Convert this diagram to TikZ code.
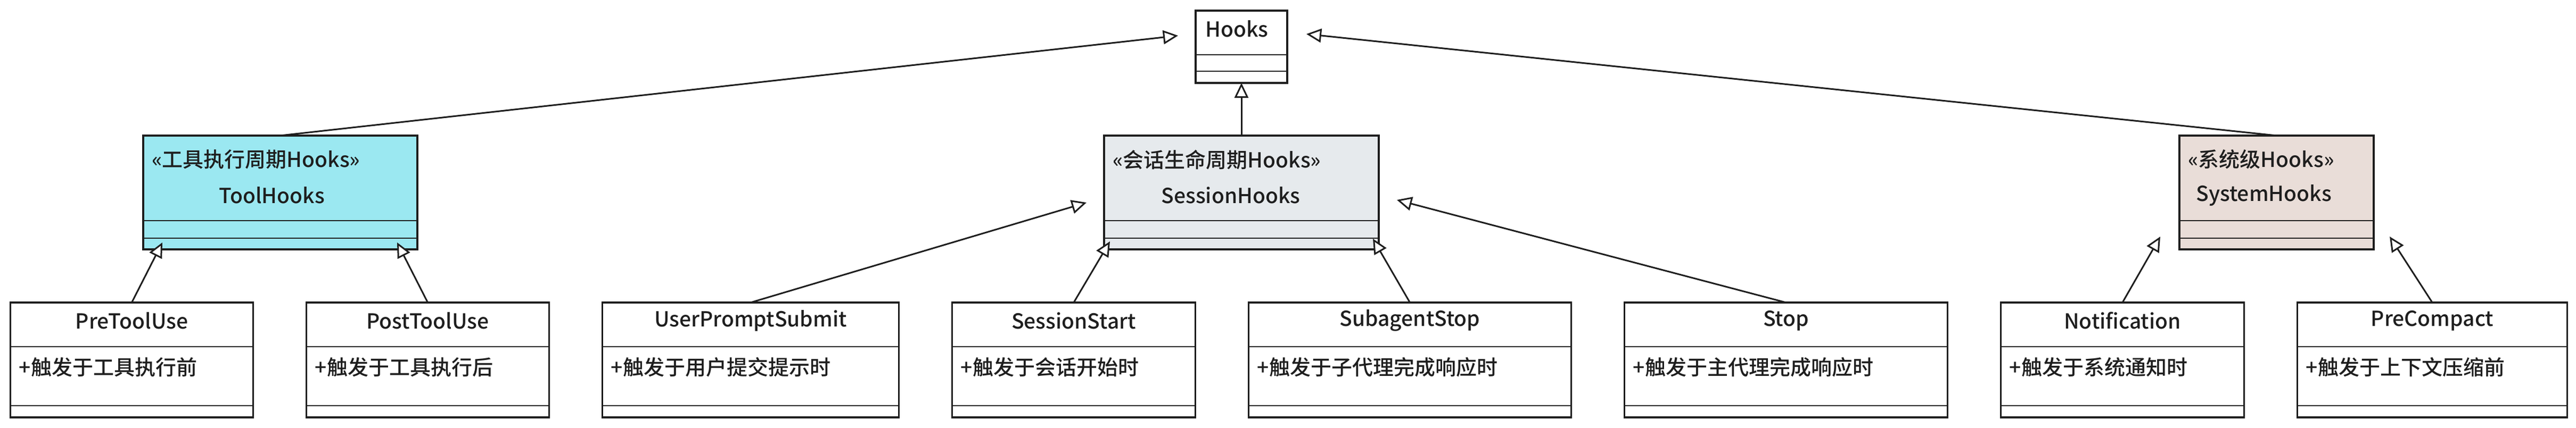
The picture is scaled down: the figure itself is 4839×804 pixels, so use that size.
\documentclass[tikz,border=0pt]{standalone}
\usepackage{fontspec}
\setmainfont{Noto Sans CJK SC}[UprightFont={* Medium}]
\usepackage{xcolor}
\usetikzlibrary{positioning,arrows.meta}

\definecolor{ink}{HTML}{1E1E1E}
\definecolor{toolfill}{HTML}{9BE8F1}
\definecolor{sessionfill}{HTML}{E6EAED}
\definecolor{systemfill}{HTML}{E9DDD8}

\tikzset{
  classbox/.style={draw=ink, line width=1.8pt, anchor=north west, inner sep=0pt, outer sep=0pt},
  eventbox/.style={classbox, fill=white, minimum height=108pt},
  groupbox/.style={classbox, minimum height=107pt},
  txt/.style={text=ink, font=\fontsize{19.5pt}{23pt}\selectfont, inner sep=0pt},
  divider/.style={draw=ink, line width=1.1pt},
  generalize/.style={draw=ink, line width=1.5pt, -{Triangle[length=14pt, width=13pt, fill=white]}},
}

\begin{document}
\begin{tikzpicture}[x=0.5pt, y=-0.5pt]
          \useasboundingbox (0,0) rectangle (4839,804);
          \fill[white] (0,0) rectangle (4839,804);

          % Define the base class and the three groups
          \node[classbox, fill=white, minimum width=86pt, minimum height=68pt] (hooks) at (2246,20) {};
          \node[groupbox, fill=toolfill, minimum width=257.5pt] (tool) at (269,255) {};
          \node[groupbox, fill=sessionfill, minimum width=258pt] (session) at (2074,255) {};
          \node[groupbox, fill=systemfill, minimum width=182.5pt] (system) at (4094,255) {};

          \node[txt, anchor=west] (hookslabel) at ([xshift=9pt,yshift=-17pt]hooks.north west) {Hooks};
          \node[txt, anchor=west] (toolst) at ([xshift=8pt,yshift=-22.5pt]tool.north west) {«工具执行周期Hooks»};
          \node[txt] (toolname) at ([xshift=-8pt,yshift=-56pt]tool.north) {ToolHooks};
          \node[txt, anchor=west] (sessionst) at ([xshift=8pt,yshift=-22.5pt]session.north west) {«会话生命周期Hooks»};
          \node[txt] (sessionname) at ([xshift=-10pt,yshift=-56pt]session.north) {SessionHooks};
          \node[txt, anchor=west] (systemst) at ([xshift=8pt,yshift=-22.5pt]system.north west) {«系统级Hooks»};
          \node[txt] (systemname) at ([xshift=-12pt,yshift=-56pt]system.north) {SystemHooks};

          % Define the event classes in the bottom row
          \node[eventbox, minimum width=228pt] (pre) at (19.5,569) {};
          \node[eventbox, minimum width=228pt, right=50pt of pre] (post) {};
          \node[eventbox, minimum width=278.5pt, right=50pt of post] (user) {};
          \node[eventbox, minimum width=228.5pt, right=50pt of user] (start) {};
          \node[eventbox, minimum width=303pt, right=50pt of start] (sub) {};
          \node[eventbox, minimum width=303.5pt, right=50pt of sub] (stop) {};
          \node[eventbox, minimum width=228.5pt, right=50pt of stop] (notify) {};
          \node[eventbox, minimum width=253.5pt, right=50pt of notify] (compact) {};

          \node[txt] (pretitle) at ([yshift=-17pt]pre.north) {PreToolUse};
          \node[txt] (posttitle) at ([yshift=-17pt]post.north) {PostToolUse};
          \node[txt] (usertitle) at ([yshift=-17pt]user.north) {UserPromptSubmit};
          \node[txt] (starttitle) at ([yshift=-17pt]start.north) {SessionStart};
          \node[txt] (subtitle) at ([yshift=-17pt]sub.north) {SubagentStop};
          \node[txt] (stoptitle) at ([yshift=-17pt]stop.north) {Stop};
          \node[txt] (notifytitle) at ([yshift=-17pt]notify.north) {Notification};
          \node[txt] (compacttitle) at ([yshift=-17pt]compact.north) {PreCompact};

          \node[txt, anchor=west] (preattr) at ([xshift=8pt,yshift=-61pt]pre.north west) {+触发于工具执行前};
          \node[txt, anchor=west] (postattr) at ([xshift=8pt,yshift=-61pt]post.north west) {+触发于工具执行后};
          \node[txt, anchor=west] (userattr) at ([xshift=8pt,yshift=-61pt]user.north west) {+触发于用户提交提示时};
          \node[txt, anchor=west] (startattr) at ([xshift=8pt,yshift=-61pt]start.north west) {+触发于会话开始时};
          \node[txt, anchor=west] (subattr) at ([xshift=8pt,yshift=-61pt]sub.north west) {+触发于子代理完成响应时};
          \node[txt, anchor=west] (stopattr) at ([xshift=8pt,yshift=-61pt]stop.north west) {+触发于主代理完成响应时};
          \node[txt, anchor=west] (notifyattr) at ([xshift=8pt,yshift=-61pt]notify.north west) {+触发于系统通知时};
          \node[txt, anchor=west] (compactattr) at ([xshift=8pt,yshift=-61pt]compact.north west) {+触发于上下文压缩前};

          % Draw the compartment lines
          \foreach \n in {hooks,pre,post,user,start,sub,stop,notify,compact} {
            \draw[divider] ([yshift=-41.5pt]\n.north west) -- ([yshift=-41.5pt]\n.north east);
            \draw[divider] ([yshift=11pt]\n.south west) -- ([yshift=11pt]\n.south east);
          }
          \foreach \n in {tool,session,system} {
            \draw[divider] ([yshift=27pt]\n.south west) -- ([yshift=27pt]\n.south east);
            \draw[divider] ([yshift=10.5pt]\n.south west) -- ([yshift=10.5pt]\n.south east);
          }

          % Draw the generalization arrows up to the base class
          \draw[generalize] (tool.north) -- ([xshift=-16.5pt,yshift=10.5pt]hooks.west);
          \draw[generalize] (session.north) -- (hooks.south);
          \draw[generalize] (system.north) -- ([xshift=18pt,yshift=12pt]hooks.east);

          % Draw the generalization arrows from the events to their groups
          \draw[generalize] (pre.north) -- ([xshift=18pt,yshift=6.5pt]tool.south west);
          \draw[generalize] (post.north) -- ([xshift=-19pt,yshift=6.5pt]tool.south east);
          \draw[generalize] (user.north) -- ([xshift=-16.5pt,yshift=-9.5pt]session.west);
          \draw[generalize] (start.north) -- ([xshift=5.5pt,yshift=7.5pt]session.south west);
          \draw[generalize] (sub.north) -- ([xshift=-5.5pt,yshift=10pt]session.south east);
          \draw[generalize] (stop.north) -- ([xshift=17pt,yshift=-7pt]session.east);
          \draw[generalize] (notify.north) -- ([xshift=-18pt,yshift=12pt]system.south west);
          \draw[generalize] (compact.north) -- ([xshift=15pt,yshift=12pt]system.south east);

\end{tikzpicture}
\end{document}
